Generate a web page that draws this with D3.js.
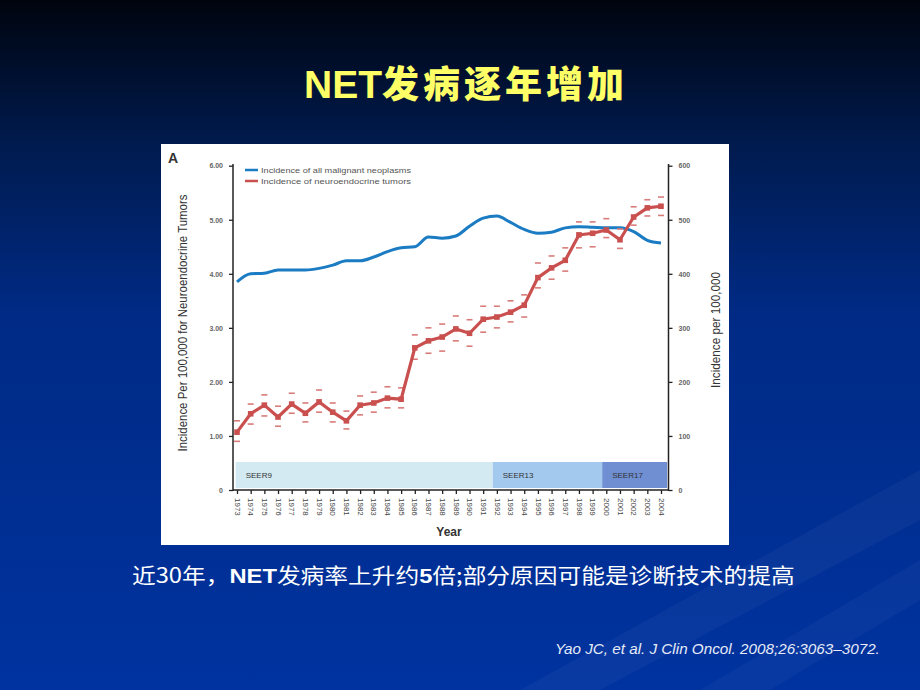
<!DOCTYPE html>
<html><head><meta charset="utf-8">
<script src="https://cdn.jsdelivr.net/npm/d3@7"></script>
<style>html,body{margin:0;padding:0;background:#001a5c;}svg{display:block;}</style>
</head><body>
<svg id="c" width="920" height="690"></svg>
<script>
// ---------- data ----------
const years = [1973,1974,1975,1976,1977,1978,1979,1980,1981,1982,1983,1984,1985,1986,1987,1988,1989,1990,1991,1992,1993,1994,1995,1996,1997,1998,1999,2000,2001,2002,2003,2004];
// Incidence of all malignant neoplasms (per 100,000, right axis)
const allMalignant = [385,400,401,407,407,407,410,416,424,424,431,441,448,450,468,466,470,488,503,507,495,482,475,477,485,487,486,485,485,478,462,457];
// Incidence of neuroendocrine tumors (per 100,000, left axis)
const netRate  = [1.07,1.41,1.57,1.35,1.59,1.42,1.63,1.44,1.28,1.57,1.61,1.70,1.68,2.63,2.76,2.83,2.98,2.90,3.16,3.20,3.29,3.42,3.93,4.11,4.25,4.72,4.75,4.81,4.63,5.05,5.22,5.25];
const netUpper = [1.28,1.59,1.76,1.55,1.79,1.61,1.85,1.61,1.46,1.74,1.81,1.91,1.89,2.87,3.00,3.07,3.22,3.15,3.40,3.40,3.50,3.61,4.20,4.33,4.48,4.96,4.96,5.02,4.83,5.24,5.37,5.42];
const netLower = [0.90,1.22,1.37,1.18,1.42,1.26,1.44,1.26,1.13,1.39,1.44,1.52,1.52,2.42,2.53,2.57,2.76,2.66,2.92,3.00,3.11,3.20,3.74,3.90,4.05,4.48,4.50,4.67,4.47,4.90,5.07,5.08];
const leftTicks = [0,1,2,3,4,5,6];
const rightTicks = [0,100,200,300,400,500,600];
const seerNames = ["SEER9","SEER13","SEER17"];
const seerStart = [1972.9,1991.7,1999.7];
const seerEnd   = [1991.7,1999.7,2004.45];
const legendLabels = ["Incidence of all malignant neoplasms","Incidence of neuroendocrine tumors"];

// ---------- slide ----------
const svg = d3.select("#c");
const defs = svg.append("defs");
const g = defs.append("linearGradient").attr("id","bg").attr("x1",0).attr("y1",0).attr("x2",0).attr("y2",1);
g.append("stop").attr("offset","0%").attr("stop-color","#00040e");
g.append("stop").attr("offset","20%").attr("stop-color","#001a4c");
g.append("stop").attr("offset","45%").attr("stop-color","#002a84");
g.append("stop").attr("offset","100%").attr("stop-color","#0033a0");
svg.append("rect").attr("width",920).attr("height",690).attr("fill","url(#bg)");
svg.append("path").attr("d","M520,690 L920,470 L920,520 L600,690 Z").attr("fill","#ffffff").attr("opacity",0.035);
svg.append("path").attr("d","M700,690 L920,560 L920,600 L770,690 Z").attr("fill","#ffffff").attr("opacity",0.03);

// title
const title = svg.append("text").attr("x",466).attr("y",98).attr("text-anchor","middle").attr("fill","#ffff66");
title.append("tspan").text("NET").style("font-family","'Liberation Sans',Arial,sans-serif").style("font-weight","bold").style("font-size","39px");
title.append("tspan").text("发病逐年增加").style("font-family","'Noto Sans CJK SC',sans-serif").style("font-weight","900").style("font-size","37px").style("letter-spacing","4px");

// subtitle
const sub = svg.append("text").attr("x",132).attr("y",583).attr("fill","#ffffff")
  .style("font-family","'Noto Sans CJK SC',sans-serif").style("font-size","21px");
[["近30年，",false],["NET",true],["发病率上升约",false],["5",true],["倍;部分原因可能是诊断技术的提高",false]].forEach(([t,b])=>{
  sub.append("tspan").text(t).style("font-weight",b?"bold":"normal").style("font-family",b?"'Liberation Sans',Arial,sans-serif":"'Noto Sans CJK SC',sans-serif");
});
{ const w = sub.node().getComputedTextLength(); const s = 663/w;
  sub.attr("transform",`translate(132,0) scale(${s},1) translate(-132,0)`); }

// citation
const cit = svg.append("text").attr("x",555).attr("y",654).attr("fill","#e6ebf7")
  .style("font-family","'Liberation Sans',Arial,sans-serif").style("font-style","italic").style("font-size","14px")
  .text("Yao JC, et al. J Clin Oncol. 2008;26:3063–3072.");
{ const w = cit.node().getComputedTextLength(); const s = 325/w;
  cit.attr("transform",`translate(555,0) scale(${s},1) translate(-555,0)`); }

// ---------- chart panel ----------
svg.append("rect").attr("x",161).attr("y",144).attr("width",568).attr("height",401).attr("fill","#ffffff");

const x = d3.scaleLinear().domain([1973,2004]).range([237,661]);
const yL = d3.scaleLinear().domain([0,6]).range([490,165.7]);
const yR = d3.scaleLinear().domain([0,600]).range([490,165.7]);
const font = "'Liberation Sans',Arial,sans-serif";

// SEER bands
const bandColors = ["#d3eaf2","#a3caee","#6f8fd2"];
const bandG = svg.append("g");
seerNames.forEach((n,i)=>{
  bandG.append("rect").attr("x",x(seerStart[i])).attr("y",462).attr("width",x(seerEnd[i])-x(seerStart[i])).attr("height",26).attr("fill",bandColors[i]);
  bandG.append("text").attr("x",x(seerStart[i])+10).attr("y",478).text(n)
    .style("font-family",font).style("font-size","8px").attr("fill","#333");
});

// axes
function styleAxis(sel){
  sel.selectAll("path.domain").remove();
  sel.selectAll("line").attr("stroke","#222").attr("stroke-width",1.3);
  sel.selectAll("text").style("font-family",font).style("font-size","7px").style("font-weight","bold").attr("fill","#666");
}
const la = svg.append("g").attr("transform","translate(233,0)")
  .call(d3.axisLeft(yL).tickValues(leftTicks).tickSize(4).tickPadding(6).tickFormat(d=>d===0?"0":d3.format(".2f")(d)));
styleAxis(la);
svg.append("line").attr("x1",233).attr("x2",233).attr("y1",164).attr("y2",491).attr("stroke","#222").attr("stroke-width",1.5);

const ra = svg.append("g").attr("transform","translate(668.5,0)")
  .call(d3.axisRight(yR).tickValues(rightTicks).tickSize(4).tickPadding(6).tickFormat(d3.format("d")));
styleAxis(ra);
svg.append("line").attr("x1",668.5).attr("x2",668.5).attr("y1",164).attr("y2",491).attr("stroke","#222").attr("stroke-width",1.5);

const xa = svg.append("g").attr("transform","translate(0,490)")
  .call(d3.axisBottom(x).tickValues(years).tickSize(4).tickFormat(d3.format("d")));
styleAxis(xa);
xa.selectAll("text").attr("transform","rotate(90)").attr("x",8).attr("y",0).attr("dy","0.35em")
  .style("text-anchor","start").style("font-size","8px").style("font-weight","normal").attr("fill","#444");
svg.append("line").attr("x1",233).attr("x2",669).attr("y1",490).attr("y2",490).attr("stroke","#222").attr("stroke-width",1.5);

// axis titles
svg.append("text").attr("transform","translate(187,323) rotate(-90)").attr("text-anchor","middle")
  .attr("textLength",257).attr("lengthAdjust","spacingAndGlyphs")
  .style("font-family",font).style("font-size","12px").attr("fill","#333")
  .text("Incidence Per 100,000 for Neuroendocrine Tumors");
svg.append("text").attr("transform","translate(720,330) rotate(-90)").attr("text-anchor","middle")
  .attr("textLength",116).attr("lengthAdjust","spacingAndGlyphs")
  .style("font-family",font).style("font-size","12px").attr("fill","#333")
  .text("Incidence per 100,000");
svg.append("text").attr("x",449).attr("y",536).attr("text-anchor","middle")
  .style("font-family",font).style("font-size","12px").style("font-weight","bold").attr("fill","#333").text("Year");
svg.append("text").attr("x",168).attr("y",163).style("font-family",font).style("font-size","14px")
  .style("font-weight","bold").attr("fill","#333").text("A");

// legend
const blue = "#1b7cc3", red = "#c9504f";
[[blue,170],[red,181]].forEach(([c,yy],i)=>{
  svg.append("line").attr("x1",245).attr("x2",258).attr("y1",yy).attr("y2",yy).attr("stroke",c).attr("stroke-width",2.5);
  svg.append("text").attr("x",261).attr("y",yy+2.5).attr("textLength",150).attr("lengthAdjust","spacingAndGlyphs")
    .style("font-family",font).style("font-size","7px").attr("fill","#555").text(legendLabels[i]);
});

// all malignant line (right axis)
svg.append("path").datum(years.map((yr,i)=>[yr,allMalignant[i]]))
  .attr("d",d3.line().x(d=>x(d[0])).y(d=>yR(d[1])).curve(d3.curveMonotoneX))
  .attr("fill","none").attr("stroke",blue).attr("stroke-width",3);

// NET line (left axis)
const netData = years.map((yr,i)=>({yr,v:netRate[i],hi:netUpper[i],lo:netLower[i]}));
const eb = svg.append("g");
netData.forEach(d=>{
  [d.hi,d.lo].forEach(v=>{
    eb.append("line").attr("x1",x(d.yr)-3).attr("x2",x(d.yr)+3).attr("y1",yL(v)).attr("y2",yL(v))
      .attr("stroke","#d87c7a").attr("stroke-width",1.6);
  });
});
svg.append("path").datum(netData)
  .attr("d",d3.line().x(d=>x(d.yr)).y(d=>yL(d.v)))
  .attr("fill","none").attr("stroke",red).attr("stroke-width",3.2);
svg.append("g").selectAll("rect").data(netData).join("rect")
  .attr("x",d=>x(d.yr)-2.8).attr("y",d=>yL(d.v)-2.8).attr("width",5.6).attr("height",5.6).attr("fill",red);
</script>
</body></html>
